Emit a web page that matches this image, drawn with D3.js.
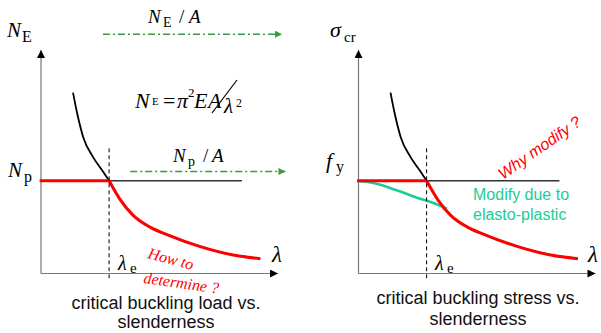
<!DOCTYPE html>
<html>
<head>
<meta charset="utf-8">
<script src="https://cdn.jsdelivr.net/npm/d3@7"></script>
<style>
  html, body { margin: 0; padding: 0; background: #fff; }
  svg { display: block; }
  .math { font-family: "Liberation Serif", "Times New Roman", serif; }
  .sans { font-family: "Liberation Sans", Arial, sans-serif; }
</style>
</head>
<body>
<div id="container"></div>
<script>
// slenderness values read along the Euler curve, and the curve itself (N / Np)
const lambda = [0.47, 0.53, 0.62, 0.76, 0.91, 1.0, 1.16, 1.35, 1.6, 1.85, 2.34, 2.82, 3.22];
const euler = [1.95, 1.73, 1.47, 1.26, 1.1, 1.0, 0.8, 0.63, 0.5, 0.42, 0.29, 0.2, 0.16];
// elasto-plastic modified curve (right chart)
const lambdaMod = [-0.02, 0.25, 0.55, 0.85, 1.1, 1.3];
const modified = [1.0, 0.97, 0.9, 0.82, 0.76, 0.7];
// plateau level, limit slenderness, end of the plateau line
const plateau = 1.0;
const lambdaE = 1.0;
const plateauEnd = 2.95;
// green "N/A" arrows: level, start, end
const arrowLevel = [2.58, 1.1];
const arrowStart = [0.91, 1.31];
const arrowEnd = [3.54, 3.59];

const W = 601, H = 333;
const red = '#ff0000';
const teal = '#1ccb98';
const green = '#3a9a3a';

const svg = d3.select('#container')
    .append('svg')
    .attr('width', W)
    .attr('height', H);

const defs = svg.append('defs');
function marker(id, color, w, h) {
    defs.append('marker')
        .attr('id', id)
        .attr('viewBox', '0 0 10 10')
        .attr('refX', 10)
        .attr('refY', 5)
        .attr('markerUnits', 'userSpaceOnUse')
        .attr('markerWidth', w)
        .attr('markerHeight', h)
        .attr('orient', 'auto')
        .append('path')
        .attr('d', 'M0,0 L10,5 L0,10 Z')
        .attr('fill', color);
}
marker('axisArrow', '#000', 9, 8);
marker('greenArrow', green, 9, 7);

const y = d3.scaleLinear().domain([0, 2.41]).range([273.5, 50]);

function drawPanel(x) {
    const g = svg.append('g');
    // axes
    g.append('line')
        .attr('x1', x(0)).attr('y1', y(0))
        .attr('x2', x(0)).attr('y2', y(2.41))
        .attr('stroke', '#777').attr('stroke-width', 1.2)
        .attr('marker-end', 'url(#axisArrow)');
    g.append('line')
        .attr('x1', x(0)).attr('y1', y(0))
        .attr('x2', x(3.48)).attr('y2', y(0))
        .attr('stroke', '#777').attr('stroke-width', 1.2)
        .attr('marker-end', 'url(#axisArrow)');
    // plateau
    g.append('line')
        .attr('x1', x(0)).attr('y1', y(plateau))
        .attr('x2', x(plateauEnd)).attr('y2', y(plateau))
        .attr('stroke', '#333').attr('stroke-width', 1.5);
    const pts = lambda.map((l, i) => [l, euler[i]]);
    const line = d3.line()
        .x(d => x(d[0]))
        .y(d => y(d[1]))
        .curve(d3.curveMonotoneX);
    g.append('path')
        .attr('d', line(pts))
        .attr('fill', 'none')
        .attr('stroke', '#000')
        .attr('stroke-width', 1.8);
    return {g, line, pts};
}

function drawRed(g, x, line, pts) {
    g.append('line')
        .attr('x1', x(-0.02)).attr('y1', y(plateau))
        .attr('x2', x(lambdaE)).attr('y2', y(plateau))
        .attr('stroke', red).attr('stroke-width', 3);
    g.append('path')
        .attr('d', line(pts.filter(d => d[0] >= lambdaE)))
        .attr('fill', 'none')
        .attr('stroke', red)
        .attr('stroke-width', 3);
    g.append('line')
        .attr('x1', x(lambdaE)).attr('y1', y(1.35))
        .attr('x2', x(lambdaE)).attr('y2', y(-0.07))
        .attr('stroke', '#000').attr('stroke-width', 1)
        .attr('stroke-dasharray', '4,3');
}

// math label: each part is {t, x, dy, size, it}
function mathText(x0, y0, size, parts) {
    const t = svg.append('text')
        .attr('class', 'math')
        .attr('x', x0).attr('y', y0)
        .style('font-size', size + 'px')
        .attr('fill', '#000');
    parts.forEach(p => {
        const s = t.append('tspan').text(p.t);
        if (p.x !== undefined) s.attr('x', p.x);
        s.attr('y', y0 + (p.dy || 0));
        if (p.size) s.style('font-size', p.size + 'px');
        if (p.it) s.style('font-style', 'italic');
    });
    return t;
}

function rotated(x0, y0, angle, txt, cls, size, color) {
    svg.append('text')
        .attr('class', cls)
        .attr('transform', `translate(${x0},${y0}) rotate(${angle})`)
        .style('font-style', 'italic')
        .style('font-size', size + 'px')
        .attr('fill', color)
        .text(txt);
}

// ---- left chart
const xL = d3.scaleLinear().domain([0, 3.48]).range([41, 278]);
const left = drawPanel(xL);
drawRed(left.g, xL, left.line, left.pts);

arrowLevel.forEach((lv, i) => {
    svg.append('line')
        .attr('x1', xL(arrowStart[i])).attr('y1', y(lv))
        .attr('x2', xL(arrowEnd[i])).attr('y2', y(lv))
        .attr('stroke', green).attr('stroke-width', 1.5)
        .attr('stroke-dasharray', '7,3,2,3')
        .attr('marker-end', 'url(#greenArrow)');
});

mathText(7, 37, 21, [{t: 'N', it: true}, {t: 'E', x: 22, dy: 5, size: 16}]);
mathText(148, 23, 19, [{t: 'N', it: true}, {t: 'E', x: 163, dy: 4, size: 14}, {t: '/', x: 179}, {t: 'A', x: 189, it: true}]);
mathText(173, 162, 19, [{t: 'N', it: true}, {t: 'p', x: 188, dy: 4, size: 14}, {t: '/', x: 203}, {t: 'A', x: 212, it: true}]);
mathText(8, 177, 21, [{t: 'N', it: true}, {t: 'p', x: 24, dy: 5, size: 16}]);
mathText(135, 108, 22, [
    {t: 'N', it: true},
    {t: 'E', x: 152, dy: -3, size: 11},
    {t: '=', x: 163},
    {t: 'π', x: 177, it: true},
    {t: '2', x: 188, dy: -11, size: 13},
    {t: 'E', x: 194, it: true},
    {t: 'A', x: 208, it: true}
]);
svg.append('line')
    .attr('x1', 212).attr('y1', 113)
    .attr('x2', 237).attr('y2', 80)
    .attr('stroke', '#000').attr('stroke-width', 1.2);
mathText(224, 113, 21, [{t: 'λ', it: true}, {t: '2', x: 236, dy: -6, size: 12}]);

mathText(272, 262, 23, [{t: 'λ', it: true}]);
mathText(118, 270, 20, [{t: 'λ', it: true}, {t: 'e', x: 130, dy: 3, size: 15}]);

rotated(147, 258, 15, 'How to', 'math', 16, red);
rotated(143, 283, 8, 'determine ?', 'math', 16, red);

svg.append('text')
    .attr('class', 'sans')
    .attr('text-anchor', 'middle')
    .style('font-size', '18px')
    .attr('fill', '#111')
    .selectAll('tspan')
    .data(['critical buckling load vs.', 'slenderness'])
    .join('tspan')
    .attr('x', 166)
    .attr('y', (d, i) => 309 + i * 19)
    .text(d => d);

// ---- right chart
const xR = d3.scaleLinear().domain([0, 3.48]).range([358.5, 595.5]);
const right = drawPanel(xR);
const modLine = d3.line()
    .x(d => xR(d[0]))
    .y(d => y(d[1]))
    .curve(d3.curveMonotoneX);
right.g.append('path')
    .attr('d', modLine(lambdaMod.map((l, i) => [l, modified[i]])))
    .attr('fill', 'none')
    .attr('stroke', teal)
    .attr('stroke-width', 2.6);
drawRed(right.g, xR, right.line, right.pts);

mathText(330, 37, 22, [{t: 'σ', it: true}, {t: 'cr', x: 344, dy: 5, size: 15}]);
mathText(326, 168, 22, [{t: 'f', it: true}, {t: 'y', x: 336, dy: 4, size: 16}]);
mathText(588, 262, 23, [{t: 'λ', it: true}]);
mathText(435, 270, 20, [{t: 'λ', it: true}, {t: 'e', x: 447, dy: 3, size: 15}]);

rotated(503, 180, -35, 'Why modify ?', 'sans', 16, red);

svg.append('text')
    .attr('class', 'sans')
    .style('font-size', '16px')
    .attr('fill', teal)
    .selectAll('tspan')
    .data(['Modify due to', 'elasto-plastic'])
    .join('tspan')
    .attr('x', 473)
    .attr('y', (d, i) => 200 + i * 20)
    .text(d => d);

svg.append('text')
    .attr('class', 'sans')
    .attr('text-anchor', 'middle')
    .style('font-size', '18px')
    .attr('fill', '#111')
    .selectAll('tspan')
    .data(['critical buckling stress vs.', 'slenderness'])
    .join('tspan')
    .attr('x', 478)
    .attr('y', (d, i) => 304 + i * 21)
    .text(d => d);
</script>
</body>
</html>
